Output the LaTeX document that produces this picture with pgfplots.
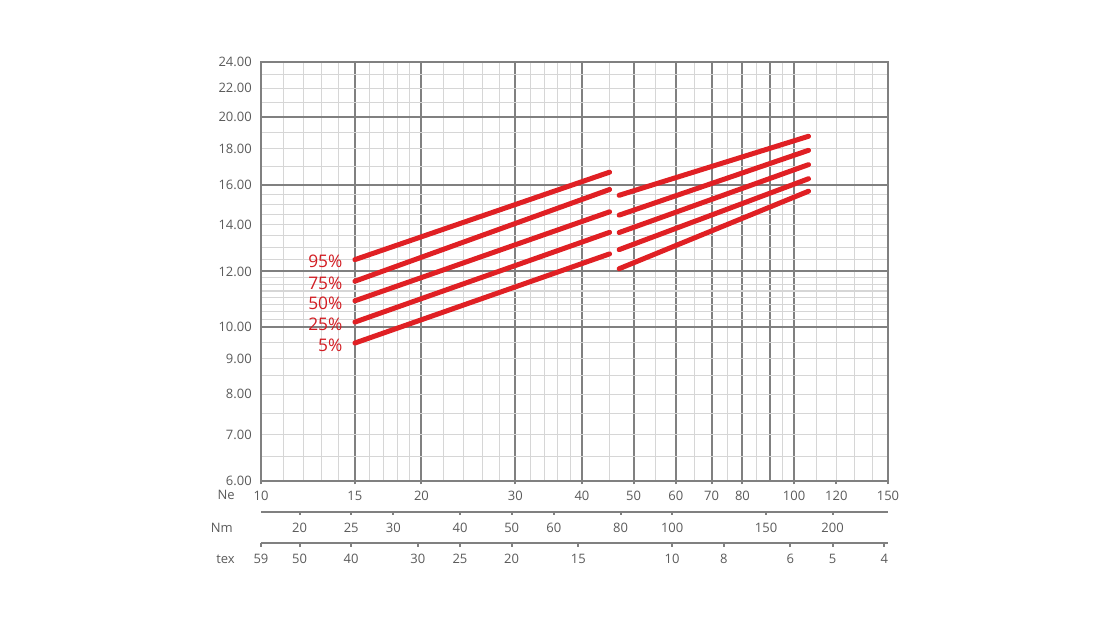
\documentclass[border=0pt]{standalone}
\usepackage{fontspec}
\setmainfont{Open Sans}
\usepackage{pgfplots}
\pgfplotsset{compat=1.18}
\definecolor{gridmajor}{RGB}{128,128,128}
\definecolor{gridminor}{RGB}{214,214,214}
\definecolor{labelgray}{RGB}{90,90,90}
\definecolor{curvered}{RGB}{224,32,36}
\definecolor{textred}{RGB}{210,28,34}

\pgfplotsset{
  seg/.style={draw=curvered, line width=3.75pt, line cap=round, mark=none},
}
\tikzset{
  pct/.style={anchor=east, text=textred, font=\fontsize{13}{14}\selectfont, inner sep=0pt, xshift=-7.5pt, yshift=-1.5pt},
  scalename/.style={anchor=east, text=labelgray, font=\fontsize{9.75}{10}\selectfont, inner sep=0pt},
}

\begin{document}
\begin{tikzpicture}
\useasboundingbox (-195.75pt,-108pt) rectangle (637.5pt,360.75pt);

% main chart
\begin{axis}[
  at={(0,0)}, anchor=south west,
  scale only axis, width=470.25pt, height=314.25pt,
  xmode=log, ymode=log,
  xmin=10, xmax=150, ymin=6, ymax=24,
  xtick={15,20,30,40,50,60,70,80,90,100},
  minor xtick={11,12,13,14,16,17,18,19,22,24,26,28,32,34,36,38,45,55,65,75,85,95,110,120,130,140},
  ytick={10,12,16,20},
  minor ytick={6.5,7,7.5,8,8.5,9,9.5,10.25,10.5,10.75,11,11.25,11.5,11.75,12.5,13,13.5,14,14.5,15,15.5,17,18,19,21,22,23},
  xticklabels={}, yticklabels={},
  extra y ticks={6,7,8,9,10,12,14,16,18,20,22,24},
  extra y tick labels={6.00,7.00,8.00,9.00,10.00,12.00,14.00,16.00,18.00,20.00,22.00,24.00},
  extra y tick style={grid=none},
  major tick length=0pt, minor tick length=0pt,
  grid=both,
  major grid style={draw=gridmajor, line width=1.5pt},
  minor grid style={draw=gridminor, line width=0.8pt},
  axis line style={draw=gridmajor, line width=1.5pt},
  yticklabel style={font=\fontsize{9.75}{10}\selectfont, text=labelgray, anchor=east, inner sep=0pt, xshift=-6.75pt},
  clip=false,
]
  % 95%
  \addplot[seg] coordinates {(15,12.48) (45.07,16.67)} node[pos=0, pct] {95\%};
  \addplot[seg] coordinates {(46.96,15.44) (106.4,18.77)};
  % 75%
  \addplot[seg] coordinates {(15,11.62) (45.07,15.74)} node[pos=0, pct] {75\%};
  \addplot[seg] coordinates {(46.96,14.46) (106.4,17.92)};
  % 50%
  \addplot[seg] coordinates {(15,10.89) (45.07,14.62)} node[pos=0, pct] {50\%};
  \addplot[seg] coordinates {(46.96,13.65) (106.4,17.09)};
  % 25%
  \addplot[seg] coordinates {(15,10.15) (45.07,13.66)} node[pos=0, pct] {25\%};
  \addplot[seg] coordinates {(46.96,12.90) (106.4,16.31)};
  % 5%
  \addplot[seg] coordinates {(15,9.47) (45.07,12.72)} node[pos=0, pct] {5\%};
  \addplot[seg] coordinates {(46.96,12.11) (106.4,15.65)};

  \node[scalename, xshift=-19.5pt, yshift=-10.5pt] at (rel axis cs:0,0) {Ne};
  \node[scalename, xshift=-21pt, yshift=-35.25pt] at (rel axis cs:0,0) {Nm};
  \node[scalename, xshift=-19.5pt, yshift=-58.5pt] at (rel axis cs:0,0) {tex};
\end{axis}

% Ne scale
\begin{axis}[at={(0,0)}, anchor=south west,
  scale only axis, width=470.25pt, height=1pt,
  xmode=log, ymin=0, ymax=1,
  hide y axis, axis x line=bottom,
  x axis line style={-, draw=gridmajor, line width=1.5pt},
  tick align=outside, major tick length=2.5pt, minor xtick={},
  xtick style={draw=gridmajor, line width=1.5pt},
  xticklabel style={font=\fontsize{9.75}{10}\selectfont, text=labelgray, anchor=base, inner sep=0pt, yshift=-12.3pt},
  xmin=10, xmax=150,
  xtick={10,15,20,30,40,50,60,70,80,100,120,150},
  xticklabels={10,15,20,30,40,50,60,70,80,100,120,150},
]
\end{axis}

% Nm scale
\begin{axis}[at={(0,-23pt)}, anchor=south west,
  scale only axis, width=470.25pt, height=1pt,
  xmode=log, ymin=0, ymax=1,
  hide y axis, axis x line=bottom,
  x axis line style={-, draw=gridmajor, line width=1.5pt},
  tick align=outside, major tick length=2.5pt, minor xtick={},
  xtick style={draw=gridmajor, line width=1.5pt},
  xticklabel style={font=\fontsize{9.75}{10}\selectfont, text=labelgray, anchor=base, inner sep=0pt, yshift=-13.3pt},
  xmin=16.934, xmax=254.01,
  xtick={20,25,30,40,50,60,80,100,150,200},
  xticklabels={20,25,30,40,50,60,80,100,150,200},
]
\end{axis}

% tex scale
\begin{axis}[at={(0,-46.7pt)}, anchor=south west,
  scale only axis, width=470.25pt, height=1pt,
  xmode=log, ymin=0, ymax=1, x dir=reverse,
  hide y axis, axis x line=bottom,
  x axis line style={-, draw=gridmajor, line width=1.5pt},
  tick align=outside, major tick length=2.5pt, minor xtick={},
  xtick style={draw=gridmajor, line width=1.5pt},
  xticklabel style={font=\fontsize{9.75}{10}\selectfont, text=labelgray, anchor=base, inner sep=0pt, yshift=-12.8pt},
  xmin=3.9367, xmax=59.05,
  xtick={59.05,50,40,30,25,20,15,10,8,6,5,4},
  xticklabels={59,50,40,30,25,20,15,10,8,6,5,4},
]
\end{axis}
\end{tikzpicture}
\end{document}
